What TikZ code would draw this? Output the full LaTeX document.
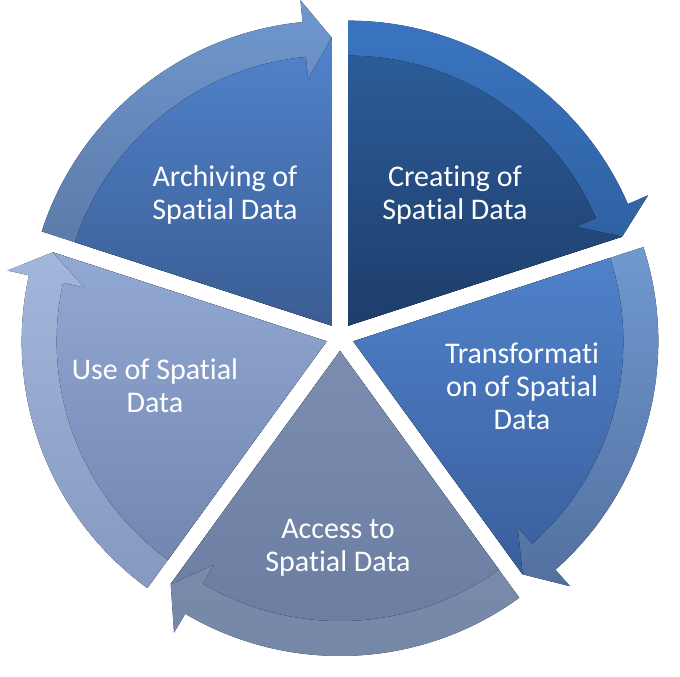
\documentclass[tikz,border=0pt]{standalone}
\usepackage{fontspec}
\setmainfont[Ligatures=NoCommon]{Carlito}
\usepackage{tikz}

% segment colours (inner part and arrow band, top and bottom of the shading)
\definecolor{creInT}{HTML}{2C5C98}
\definecolor{creInB}{HTML}{1E3D6B}
\definecolor{creBandT}{HTML}{3A74C0}
\definecolor{creBandB}{HTML}{2A5A96}
\definecolor{traInT}{HTML}{4F82CA}
\definecolor{traInB}{HTML}{3A5E9C}
\definecolor{traBandT}{HTML}{7099D0}
\definecolor{traBandB}{HTML}{52709F}
\definecolor{accInT}{HTML}{7C8DB0}
\definecolor{accInB}{HTML}{6A7DA1}
\definecolor{accBandT}{HTML}{8090B0}
\definecolor{accBandB}{HTML}{7587A7}
\definecolor{useInT}{HTML}{93A9D5}
\definecolor{useInB}{HTML}{7187B0}
\definecolor{useBandT}{HTML}{A3B7DC}
\definecolor{useBandB}{HTML}{8598BF}
\definecolor{arcInT}{HTML}{5183CC}
\definecolor{arcInB}{HTML}{3A5D93}
\definecolor{arcBandT}{HTML}{7098CE}
\definecolor{arcBandB}{HTML}{54719D}

\tikzset{
    label/.style={text=white, align=center, font=\fontsize{30}{33}\selectfont}
}

\begin{document}
\begin{tikzpicture}[x=1pt, y=1pt]
    \useasboundingbox (-340,-340) rectangle (340,337);

    % five wedges, each with its arrow band on the rim
    \foreach \s/\seg in {90/cre, 18/tra, -54/acc, -126/use, -198/arc} {
        \begin{scope}[shift={({\s-36}:14)}]
            \fill[top color=\seg BandT, bottom color=\seg BandB]
                (0,0) -- (\s:305) arc[start angle=\s, end angle=\s-66.5, radius=305]
                -- ({\s-66.5}:327) -- ({\s-72}:288) -- cycle;
            \fill[top color=\seg InT, bottom color=\seg InB]
                (0,0) -- (\s:270) arc[start angle=\s, end angle=\s-66.5, radius=270]
                -- ({\s-66.5}:248) -- ({\s-72}:288) -- cycle;
        \end{scope}
    }

    % labels
    \node[label] (creating) at (115,142) {Creating of\\Spatial Data};
    \node[label] (transform) at (182,-49) {Transformati\\on of Spatial\\Data};
    \node[label] (access) at (-2,-211) {Access to\\Spatial Data};
    \node[label] (use) at (-185,-49) {Use of Spatial\\Data};
    \node[label] (archiving) at (-115,142) {Archiving of\\Spatial Data};
\end{tikzpicture}
\end{document}
